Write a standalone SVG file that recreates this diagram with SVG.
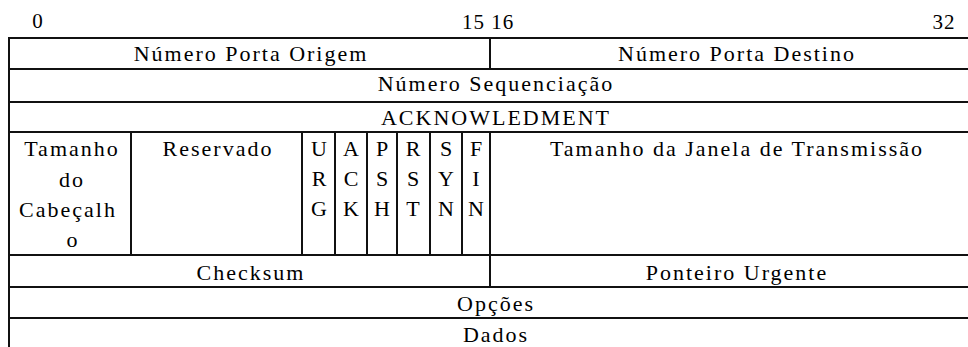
<svg xmlns="http://www.w3.org/2000/svg" width="968" height="347" viewBox="0 0 968 347">
  <style>
    text { font-family: "Liberation Serif", "Times New Roman", serif; font-size: 22px; fill: #000; letter-spacing: 2px; }
    .c { text-anchor: middle; }
    .num { font-size: 21px; letter-spacing: 1px; }
    .grid line { stroke: #111; stroke-width: 2; }
  </style>
  <rect width="968" height="347" fill="#fff"/>

  <!-- bit position ruler -->
  <g id="ruler">
    <text class="num c" x="38" y="28">0</text>
    <text class="num c" x="488" y="29">15 16</text>
    <text class="num c" x="944" y="29">32</text>
  </g>

  <!-- table rules -->
  <g id="grid" class="grid">
    <line x1="9" y1="38" x2="968" y2="38"/>
    <line x1="9" y1="69" x2="968" y2="69"/>
    <line x1="9" y1="102" x2="968" y2="102"/>
    <line x1="9" y1="132" x2="968" y2="132"/>
    <line x1="9" y1="255" x2="968" y2="255"/>
    <line x1="9" y1="287" x2="968" y2="287"/>
    <line x1="9" y1="318" x2="968" y2="318"/>
    <line x1="9" y1="37" x2="9" y2="347"/>
    <line x1="490" y1="38" x2="490" y2="69"/>
    <line x1="131" y1="132" x2="131" y2="255"/>
    <line x1="302" y1="132" x2="302" y2="255"/>
    <line x1="335" y1="132" x2="335" y2="255"/>
    <line x1="367" y1="132" x2="367" y2="255"/>
    <line x1="397" y1="132" x2="397" y2="255"/>
    <line x1="430" y1="132" x2="430" y2="255"/>
    <line x1="462" y1="132" x2="462" y2="255"/>
    <line x1="490" y1="132" x2="490" y2="287"/>
  </g>

  <g id="porta-origem"><text class="c" x="251" y="61">Número Porta Origem</text></g>
  <g id="porta-destino"><text class="c" x="737" y="61">Número Porta Destino</text></g>
  <g id="sequenciacao"><text class="c" x="496" y="91">Número Sequenciação</text></g>
  <g id="acknowledment"><text class="c" x="496" y="125">ACKNOWLEDMENT</text></g>

  <g id="tamanho-cabecalho">
    <text class="c" x="72" y="156">Tamanho</text>
    <text class="c" x="72" y="187">do</text>
    <text class="c" x="68" y="217">Cabeçalh</text>
    <text class="c" x="73" y="247">o</text>
  </g>
  <g id="reservado"><text class="c" x="218" y="156">Reservado</text></g>

  <g id="flag-urg">
    <text class="c" x="320" y="156">U</text>
    <text class="c" x="320" y="186">R</text>
    <text class="c" x="320" y="216">G</text>
  </g>
  <g id="flag-ack">
    <text class="c" x="352" y="156">A</text>
    <text class="c" x="352" y="186">C</text>
    <text class="c" x="352" y="216">K</text>
  </g>
  <g id="flag-psh">
    <text class="c" x="383" y="156">P</text>
    <text class="c" x="383" y="186">S</text>
    <text class="c" x="383" y="216">H</text>
  </g>
  <g id="flag-rst">
    <text class="c" x="414" y="156">R</text>
    <text class="c" x="414" y="186">S</text>
    <text class="c" x="414" y="216">T</text>
  </g>
  <g id="flag-syn">
    <text class="c" x="447" y="156">S</text>
    <text class="c" x="447" y="186">Y</text>
    <text class="c" x="447" y="216">N</text>
  </g>
  <g id="flag-fin">
    <text class="c" x="477" y="156">F</text>
    <text class="c" x="477" y="186">I</text>
    <text class="c" x="477" y="216">N</text>
  </g>

  <g id="janela"><text class="c" x="737" y="156">Tamanho da Janela de Transmissão</text></g>
  <g id="checksum"><text class="c" x="251" y="280">Checksum</text></g>
  <g id="ponteiro-urgente"><text class="c" x="737" y="280">Ponteiro Urgente</text></g>
  <g id="opcoes"><text class="c" x="496" y="311">Opções</text></g>
  <g id="dados"><text class="c" x="496" y="342">Dados</text></g>
</svg>
